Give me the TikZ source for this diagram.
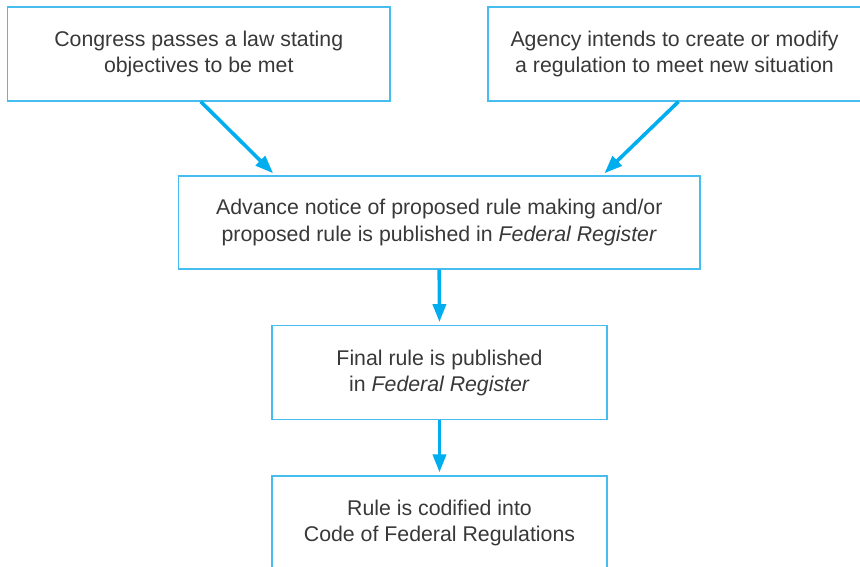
\documentclass[tikz,border=0pt]{standalone}
\usepackage{fontspec}
\setmainfont{Liberation Sans}
\usetikzlibrary{arrows.meta,calc}
\definecolor{boxline}{HTML}{45BDEE}
\definecolor{arrowc}{HTML}{00AEEF}
\definecolor{txt}{HTML}{383838}
\begin{document}
\begin{tikzpicture}[x=1pt,y=-1pt,
  box/.style={draw=boxline,line width=1.2pt,rectangle,inner sep=0pt,align=center,
    text=txt,font=\fontsize{21.3}{26.5}\selectfont},
  flow/.style={draw=arrowc,line width=3.6pt,-{Triangle[length=18pt,width=13pt]},shorten >=3pt}]
\useasboundingbox (0,0) rectangle (860,567);
\clip (0,0) rectangle (860,567);
\node[box,minimum width=382.5pt,minimum height=94pt] (b1) at (198.75,54)
  {Congress passes a law stating\\objectives to be met};
\node[box,minimum width=373pt,minimum height=94pt] (b2) at (674.5,54)
  {Agency intends to create or modify\\a regulation to meet new situation};
\node[box,minimum width=521.5pt,minimum height=93pt] (b3) at (439.25,222.5)
  {Advance notice of proposed rule making and/or\\proposed rule is published in \textit{Federal Register}};
\node[box,minimum width=335pt,minimum height=94pt] (b4) at (439.5,372.75)
  {Final rule is published\\in \textit{Federal Register}};
\node[box,minimum width=335pt,minimum height=94pt] (b5) at (439.5,523)
  {Rule is codified into\\Code of Federal Regulations};
\draw[flow] ([xshift=2pt]b1.south) -- ([xshift=-164pt]b3.north);
\draw[flow] ([xshift=4pt]b2.south) -- ([xshift=163pt]b3.north);
\draw[flow] (b3.south) -- (b4.north);
\draw[flow] (b4.south) -- (b5.north);
\end{tikzpicture}
\end{document}
